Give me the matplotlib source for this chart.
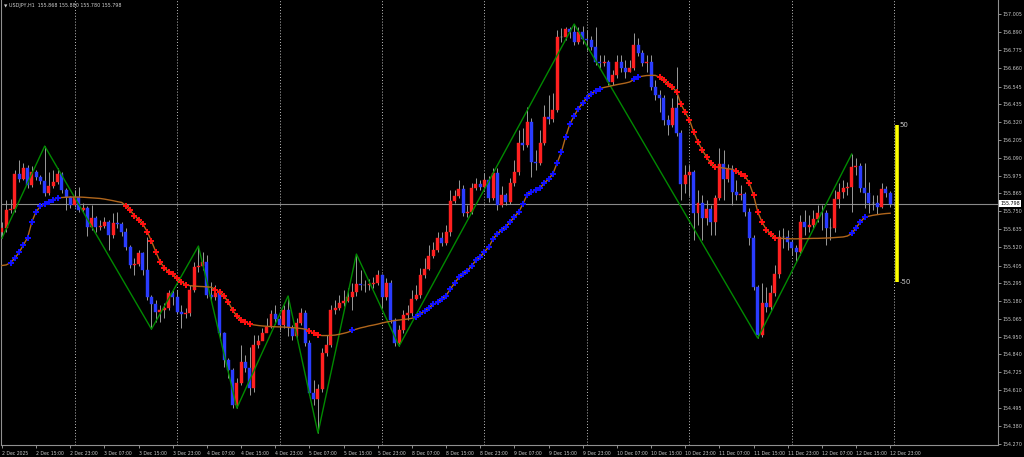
import numpy as np
import matplotlib.pyplot as plt

# USDJPY H1 bars, 2 Dec 07:00 .. 12 Dec 23:00
first_open = 155.618
closes = [
    155.644, 155.758, 155.765, 155.988, 155.956, 156.026, 155.918, 156.000, 155.969, 155.943,
    155.867, 155.911, 155.937, 155.988, 155.886, 155.841, 155.790, 155.841, 155.758, 155.771,
    155.650, 155.707, 155.650, 155.657, 155.682, 155.599, 155.676, 155.669, 155.618, 155.523,
    155.408, 155.414, 155.485, 155.376, 155.204, 155.160, 155.109, 155.121, 155.134, 155.230,
    155.204, 155.109, 155.096, 155.102, 155.249, 155.395, 155.402, 155.427, 155.217, 155.204,
    155.230, 154.975, 154.803, 154.739, 154.516, 154.657, 154.790, 154.752, 154.625, 154.899,
    154.924, 154.975, 155.013, 155.096, 155.064, 155.026, 155.121, 155.007, 154.956, 155.039,
    155.102, 154.911, 154.593, 154.555, 154.618, 154.848, 154.899, 155.121, 155.134, 155.166,
    155.179, 155.204, 155.236, 155.287, 155.281, 155.281, 155.287, 155.293, 155.344, 155.204,
    155.293, 155.058, 154.911, 154.994, 155.090, 155.102, 155.192, 155.217, 155.344, 155.383,
    155.465, 155.504, 155.580, 155.548, 155.618, 155.816, 155.848, 155.892, 155.739, 155.746,
    155.899, 155.924, 155.905, 155.950, 155.835, 155.994, 155.790, 155.854, 155.809, 155.930,
    156.000, 156.185, 156.172, 156.319, 156.064, 156.058, 156.185, 156.351, 156.338, 156.395,
    156.860, 156.860, 156.911, 156.892, 156.828, 156.892, 156.848, 156.841, 156.797, 156.701,
    156.695, 156.701, 156.574, 156.618, 156.701, 156.663, 156.637, 156.663, 156.809, 156.758,
    156.695, 156.701, 156.542, 156.491, 156.472, 156.332, 156.300, 156.408, 156.249, 155.924,
    155.981, 156.000, 155.739, 155.803, 155.707, 155.765, 155.682, 155.835, 156.051, 155.956,
    156.020, 155.873, 155.854, 155.860, 155.746, 155.580, 155.268, 154.962, 155.166, 155.141,
    155.230, 155.351, 155.586, 155.586, 155.555, 155.516, 155.491, 155.682, 155.650, 155.663,
    155.701, 155.739, 155.739, 155.644, 155.644, 155.828, 155.873, 155.899, 155.905, 156.032,
    156.039, 155.899, 155.867, 155.803, 155.803, 155.778, 155.892, 155.868, 155.798,
]
highs = [
    155.682, 155.822, 155.828, 156.013, 156.077, 156.058, 156.045, 156.039, 156.013, 155.981,
    156.166, 156.000, 156.013, 156.026, 156.000, 155.899, 155.848, 155.886, 155.905, 155.803,
    155.784, 155.790, 155.720, 155.695, 155.714, 155.695, 155.739, 155.746, 155.682, 155.644,
    155.536, 155.453, 155.504, 155.491, 155.586, 155.217, 155.185, 155.153, 155.166, 155.249,
    155.249, 155.249, 155.153, 155.134, 155.281, 155.427, 155.529, 155.491, 155.472, 155.300,
    155.281, 155.249, 154.981, 154.816, 154.752, 154.688, 154.899, 154.835, 154.886, 154.962,
    154.962, 155.007, 155.071, 155.121, 155.153, 155.090, 155.153, 155.211, 155.026, 155.071,
    155.134, 155.121, 154.930, 154.676, 154.650, 154.879, 154.962, 155.153, 155.185, 155.217,
    155.249, 155.262, 155.293, 155.478, 155.376, 155.313, 155.319, 155.332, 155.376, 155.350,
    155.325, 155.313, 155.071, 155.026, 155.121, 155.153, 155.249, 155.281, 155.389, 155.453,
    155.536, 155.555, 155.618, 155.618, 155.663, 155.886, 155.886, 155.950, 155.918, 155.790,
    155.930, 155.962, 155.950, 155.994, 155.975, 156.026, 156.026, 155.911, 155.867, 155.962,
    156.077, 156.268, 156.281, 156.414, 156.344, 156.141, 156.268, 156.427, 156.491, 156.504,
    156.905, 156.918, 156.924, 156.924, 156.943, 156.924, 156.930, 156.905, 156.867, 156.924,
    156.746, 156.746, 156.714, 156.650, 156.746, 156.746, 156.714, 156.714, 156.886, 156.854,
    156.778, 156.746, 156.746, 156.586, 156.523, 156.491, 156.364, 156.472, 156.669, 156.268,
    156.045, 156.045, 156.013, 155.886, 155.854, 155.822, 155.790, 155.854, 156.153, 156.141,
    156.051, 156.045, 155.950, 155.918, 155.873, 155.771, 155.599, 155.281, 155.293, 155.268,
    155.281, 155.408, 155.631, 155.644, 155.631, 155.567, 155.536, 155.727, 155.758, 155.727,
    155.758, 155.790, 155.790, 155.758, 155.707, 155.886, 155.930, 155.950, 155.937, 156.115,
    156.090, 156.058, 156.058, 155.937, 155.854, 155.854, 155.930, 155.911, 155.880,
]
lows = [
    155.580, 155.618, 155.739, 155.746, 155.937, 155.950, 155.899, 155.905, 155.950, 155.924,
    155.848, 155.854, 155.899, 155.924, 155.867, 155.758, 155.771, 155.778, 155.746, 155.746,
    155.593, 155.631, 155.618, 155.631, 155.644, 155.504, 155.580, 155.644, 155.593, 155.504,
    155.389, 155.344, 155.402, 155.344, 155.185, 155.000, 155.045, 155.045, 155.071, 155.121,
    155.153, 155.096, 155.007, 155.071, 155.083, 155.236, 155.364, 155.376, 155.198, 155.185,
    155.185, 154.930, 154.758, 154.688, 154.497, 154.497, 154.644, 154.727, 154.580, 154.599,
    154.879, 154.930, 154.981, 155.007, 155.032, 154.994, 155.007, 154.956, 154.930, 154.943,
    155.026, 154.892, 154.580, 154.516, 154.338, 154.599, 154.828, 154.886, 155.096, 155.121,
    155.147, 155.172, 155.121, 155.211, 155.249, 155.236, 155.249, 155.262, 155.281, 155.134,
    155.185, 155.039, 154.892, 154.892, 154.975, 155.058, 155.083, 155.185, 155.198, 155.325,
    155.376, 155.453, 155.491, 155.529, 155.536, 155.593, 155.803, 155.835, 155.720, 155.714,
    155.733, 155.886, 155.886, 155.886, 155.809, 155.822, 155.758, 155.778, 155.790, 155.797,
    155.911, 155.981, 156.141, 156.160, 155.969, 156.013, 156.045, 156.172, 156.306, 156.320,
    156.383, 156.828, 156.841, 156.854, 156.809, 156.816, 156.816, 156.778, 156.778, 156.682,
    156.663, 156.676, 156.555, 156.555, 156.599, 156.637, 156.599, 156.637, 156.650, 156.739,
    156.676, 156.637, 156.523, 156.459, 156.383, 156.300, 156.236, 156.287, 156.230, 155.822,
    155.867, 155.848, 155.567, 155.663, 155.567, 155.663, 155.599, 155.599, 155.822, 155.822,
    155.937, 155.790, 155.822, 155.822, 155.720, 155.536, 155.249, 154.943, 154.950, 155.109,
    155.121, 155.211, 155.325, 155.516, 155.504, 155.472, 155.427, 155.472, 155.599, 155.618,
    155.644, 155.682, 155.631, 155.536, 155.567, 155.618, 155.771, 155.835, 155.854, 155.746,
    155.981, 155.873, 155.771, 155.739, 155.758, 155.733, 155.770, 155.841, 155.780,
]
# adaptive moving average (brown line with trend dots)
ama = [
    155.405, 155.409, 155.424, 155.451, 155.488, 155.536, 155.583, 155.684, 155.749, 155.781,
    155.797, 155.809, 155.822, 155.836, 155.838, 155.840, 155.841, 155.841, 155.841, 155.840,
    155.838, 155.836, 155.834, 155.832, 155.828, 155.823, 155.818, 155.812, 155.807, 155.787,
    155.758, 155.723, 155.698, 155.669, 155.621, 155.561, 155.494, 155.430, 155.392, 155.364,
    155.348, 155.323, 155.302, 155.281, 155.277, 155.274, 155.272, 155.271, 155.269, 155.267,
    155.252, 155.236, 155.211, 155.172, 155.121, 155.083, 155.061, 155.046, 155.032, 155.027,
    155.023, 155.020, 155.018, 155.016, 155.015, 155.014, 155.013, 155.011, 155.009, 155.007,
    155.004, 155.000, 154.988, 154.975, 154.962, 154.959, 154.959, 154.960, 154.962, 154.967,
    154.973, 154.980, 154.992, 155.000, 155.008, 155.014, 155.021, 155.026, 155.032, 155.039,
    155.045, 155.050, 155.055, 155.058, 155.061, 155.064, 155.069, 155.080, 155.099, 155.115,
    155.137, 155.157, 155.172, 155.192, 155.214, 155.255, 155.293, 155.329, 155.354, 155.370,
    155.405, 155.437, 155.459, 155.494, 155.523, 155.574, 155.606, 155.631, 155.653, 155.682,
    155.714, 155.746, 155.797, 155.857, 155.873, 155.886, 155.899, 155.930, 155.956, 155.988,
    156.058, 156.128, 156.224, 156.306, 156.357, 156.405, 156.440, 156.475, 156.500, 156.516,
    156.532, 156.539, 156.545, 156.551, 156.557, 156.562, 156.567, 156.574, 156.590, 156.606,
    156.611, 156.615, 156.616, 156.616, 156.604, 156.586, 156.561, 156.539, 156.513, 156.434,
    156.380, 156.332, 156.255, 156.192, 156.141, 156.096, 156.055, 156.034, 156.029, 156.026,
    156.022, 156.018, 156.004, 155.990, 155.975, 155.930, 155.854, 155.746, 155.682, 155.634,
    155.606, 155.583, 155.579, 155.577, 155.576, 155.575, 155.575, 155.576, 155.576, 155.577,
    155.578, 155.578, 155.579, 155.580, 155.581, 155.583, 155.585, 155.587, 155.593, 155.609,
    155.644, 155.682, 155.711, 155.719, 155.725, 155.729, 155.733, 155.736, 155.738,
]
# zigzag pivots: bar index and whether it sits on the high or the low
zigzag_bars = [0, 10, 35, 46, 55, 67, 74, 83, 93, 134, 177, 199]
zigzag_kind = ["L", "H", "L", "H", "L", "H", "L", "H", "L", "H", "L", "H"]

time_labels = [
    "2 Dec 2025", "2 Dec 15:00", "2 Dec 23:00", "3 Dec 07:00", "3 Dec 15:00", "3 Dec 23:00",
    "4 Dec 07:00", "4 Dec 15:00", "4 Dec 23:00", "5 Dec 07:00", "5 Dec 15:00", "5 Dec 23:00",
    "8 Dec 07:00", "8 Dec 15:00", "8 Dec 23:00", "9 Dec 07:00", "9 Dec 15:00", "9 Dec 23:00",
    "10 Dec 07:00", "10 Dec 15:00", "10 Dec 23:00", "11 Dec 07:00", "11 Dec 15:00",
    "11 Dec 23:00", "12 Dec 07:00", "12 Dec 15:00", "12 Dec 23:00",
]
price_ticks = [157.005, 156.890, 156.775, 156.660, 156.545, 156.435, 156.320, 156.205,
               156.090, 155.975, 155.865, 155.750, 155.635, 155.520, 155.405, 155.295,
               155.180, 155.065, 154.950, 154.840, 154.725, 154.610, 154.495, 154.380,
               154.270]
range_pips = 50
first_hour = 7

opens = [first_open] + closes[:-1]
n = len(closes)
x = np.arange(n)
o = np.array(opens)
c = np.array(closes)

fig = plt.figure(figsize=(10.24, 4.57), dpi=100, facecolor="black")
ax = fig.add_axes([1 / 1024, 12 / 457, 997 / 1024, 445 / 457], facecolor="black")

# day separators
for i in range(n + 1):
    if (first_hour + i) % 24 == 0:
        ax.axvline(i, color="#c0c0c0", lw=0.7, ls=(0, (1, 2)), zorder=1)

# current price line
ax.axhline(closes[-1], color="#8a8a8a", lw=0.8, zorder=1)

# candles
ax.vlines(x, lows, highs, color="#9a9a9a", lw=0.7, zorder=2)
body_col = np.where(c > o, "#ff2020", np.where(c < o, "#2a3cff", "#9a9a9a"))
ax.bar(x, np.abs(c - o), bottom=np.minimum(o, c), width=0.7, color=body_col,
       edgecolor=body_col, linewidth=0.3, zorder=3)

# zigzag
zz_y = [highs[b] if k == "H" else lows[b] for b, k in zip(zigzag_bars, zigzag_kind)]
ax.plot(zigzag_bars, zz_y, color="#008a00", lw=1.0, zorder=4)

# AMA line and trend dots
a = np.array(ama)
ax.plot(x, a, color="#b0661c", lw=1.0, zorder=5)
d = np.diff(a, prepend=a[0])
up = d > 0.0095
dn = d < -0.0095
ax.plot(x[up], a[up], ls="none", marker="P", ms=4, color="#1010ff", mew=0, zorder=6)
ax.plot(x[dn], a[dn], ls="none", marker="P", ms=4, color="#ff1010", mew=0, zorder=6)

# +/- range bar after the last candle
bx = n + 0.7
half = range_pips * 0.01
ax.vlines(bx, closes[-1] - half, closes[-1] + half, color="#ffff00", lw=2.6, zorder=6)
ax.text(bx + 0.6, closes[-1] + half, str(range_pips), color="#c8c8c8", fontsize=5,
        ha="left", va="center")
ax.text(bx + 0.6, closes[-1] - half, str(-range_pips), color="#c8c8c8", fontsize=5,
        ha="left", va="center")

ax.set_xlim(-0.234, 233.26)
ax.set_ylim(154.262, 157.096)

tick_font = ["Liberation Sans Narrow", "DejaVu Sans"]
ax.yaxis.tick_right()
ax.set_yticks(price_ticks)
ax.set_yticklabels([f"{p:.3f}" for p in price_ticks], fontsize=3.9, family=tick_font,
                   fontstretch="condensed")
ax.tick_params(axis="y", colors="#c8c8c8", length=2, width=0.5, pad=1.2)
label_bars = list(range(0, n, 8))
ax.set_xticks(label_bars)
ax.set_xticklabels(time_labels, fontsize=3.7, family=tick_font, fontstretch="condensed",
                   ha="left")
ax.tick_params(axis="x", colors="#c8c8c8", length=2.5, width=0.5, pad=1.5)

for side in ["left", "right", "bottom"]:
    ax.spines[side].set_color("#909090")
    ax.spines[side].set_linewidth(0.8)
ax.spines["top"].set_visible(False)

# bid label on the price scale
ax.text(1.002, closes[-1], f"{closes[-1]:.3f}", transform=ax.get_yaxis_transform(),
        ha="left", va="center", fontsize=3.9, family=tick_font, fontstretch="condensed",
        color="black", bbox=dict(facecolor="white", edgecolor="none", pad=0.8),
        clip_on=False, zorder=10)

# header
fig.text(4 / 1024, 1 - 6 / 457, "\u25bc", color="#d0d0d0", fontsize=3.2, va="center")
fig.text(9 / 1024, 1 - 6 / 457,
         f"USDJPY,H1  {opens[-1]:.3f} {highs[-1]:.3f} {lows[-1]:.3f} {closes[-1]:.3f}",
         color="#d0d0d0", fontsize=3.9, family=tick_font, fontstretch="condensed",
         va="center")

plt.savefig("out.png", dpi=100, facecolor="black")
